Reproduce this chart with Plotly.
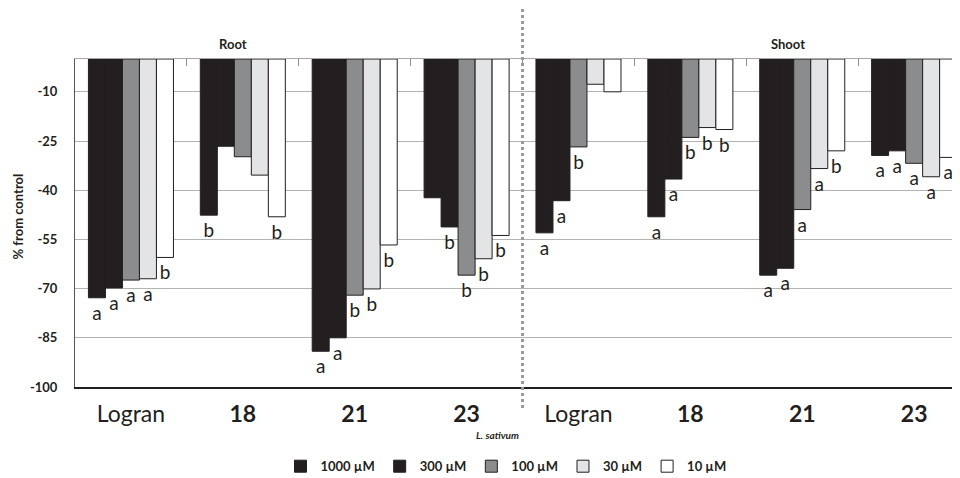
import plotly.graph_objects as go

categories = ["Logran", "18", "21", "23", "Logran", "18", "21", "23"]
tick_text = ["Logran", "<b>18</b>", "<b>21</b>", "<b>23</b>",
             "Logran", "<b>18</b>", "<b>21</b>", "<b>23</b>"]
series_names = ["1000 µM", "300 µM", "100 µM", "30 µM", "10 µM"]

v1000 = [-72.8, -47.6, -89.1, -42.3, -53.0, -48.1, -65.9, -29.4]
v300 = [-69.8, -26.6, -85.0, -51.2, -43.2, -36.6, -63.8, -28.0]
v100 = [-67.4, -29.8, -72.0, -65.9, -26.8, -23.9, -45.9, -31.8]
v30 = [-67.0, -35.4, -70.1, -60.9, -7.7, -20.9, -33.4, -35.9]
v10 = [-60.5, -48.1, -56.7, -53.8, -10.0, -21.5, -28.0, -30.0]

l1000 = ["a", "b", "a", "", "a", "a", "a", "a"]
l300 = ["a", "", "a", "b", "a", "a", "a", "a"]
l100 = ["a", "", "b", "b", "b", "b", "a", "a"]
l30 = ["a", "", "b", "b", "", "b", "a", "a"]
l10 = ["b", "b", "b", "b", "", "b", "b", "a"]

y_ticks = [-10, -25, -40, -55, -70, -85, -100]
y_tick_text = ["<b>%d</b>" % v for v in y_ticks]
panel_titles = ["Root", "Shoot"]

colors = ["#231f20", "#231f20", "#8b8c8e", "#e3e4e5", "#ffffff"]
values = [v1000, v300, v100, v30, v10]
labels = [l1000, l300, l100, l30, l10]

FONT = "Lato"
xpos = list(range(len(categories)))

fig = go.Figure()
for name, vals, labs, col in zip(series_names, values, labels, colors):
    fig.add_trace(go.Bar(
        x=xpos, y=vals, name=name,
        marker=dict(color=col, line=dict(color="#231f20", width=1)),
        text=labs, textposition="outside", constraintext="none",
        textfont=dict(family=FONT, size=19, color="#231f20"),
        cliponaxis=False,
    ))

# invisible trace to carry the top category axis (tick marks between groups)
fig.add_trace(go.Scatter(x=[0], y=[0], xaxis="x2", yaxis="y",
                         mode="markers", marker=dict(opacity=0),
                         showlegend=False, hoverinfo="skip"))

xr = [-0.5, 7.41]
fig.update_layout(
    width=952, height=470,
    margin=dict(l=67, r=0, t=51, b=91, autoexpand=False),
    paper_bgcolor="white", plot_bgcolor="white",
    barmode="group", bargap=0.24, bargroupgap=0,
    font=dict(family=FONT, color="#231f20"),
    xaxis=dict(
        range=xr, tickmode="array", tickvals=xpos, ticktext=tick_text,
        tickfont=dict(family=FONT, size=23, color="#231f20"),
        ticks="", showline=True, linecolor="#231f20", linewidth=2,
        showgrid=False, zeroline=False, ticklabelstandoff=5,
        automargin=False,
    ),
    xaxis2=dict(
        range=xr, overlaying="x", side="top", anchor="y",
        tickmode="array", tickvals=[0.5, 1.5, 2.5, 3.5, 4.5, 5.5, 6.5],
        ticks="inside", ticklen=7, tickcolor="#8c8c8c", tickwidth=1,
        showticklabels=False, showline=True, linecolor="#a6a6a6",
        linewidth=1, showgrid=False, zeroline=False, automargin=False,
    ),
    yaxis=dict(
        range=[-100, 0], tickmode="array", tickvals=y_ticks,
        ticktext=y_tick_text,
        tickfont=dict(family=FONT, size=13, color="#231f20"),
        ticks="", ticklabelstandoff=14,
        showgrid=True, gridcolor="#b3b3b3", gridwidth=1.3,
        zeroline=False, showline=True, linecolor="#555555", linewidth=1,
        automargin=False,
    ),
    legend=dict(
        orientation="h", x=0.487, xanchor="center",
        yref="container", y=0.025, yanchor="middle",
        font=dict(family=FONT, size=13, color="#231f20", weight="bold"),
        itemwidth=30, traceorder="normal",
    ),
    showlegend=True,
)

# dotted separator between Root and Shoot
fig.add_shape(type="line", xref="x", yref="paper", x0=3.5, x1=3.5,
              y0=-0.064, y1=1.155,
              line=dict(color="#9a9a9a", width=3, dash="dot"))

fig.add_annotation(text="<b>%s</b>" % panel_titles[0], xref="paper", yref="paper",
                   x=0.1785, y=1, yshift=15, xanchor="center", yanchor="middle",
                   showarrow=False,
                   font=dict(family=FONT, size=13, color="#231f20"))
fig.add_annotation(text="<b>%s</b>" % panel_titles[1], xref="paper", yref="paper",
                   x=0.806, y=1, yshift=15, xanchor="center", yanchor="middle",
                   showarrow=False,
                   font=dict(family=FONT, size=13, color="#231f20"))
fig.add_annotation(text="<b><i>L. sativum</i></b>", xref="paper", yref="paper",
                   x=0.477, y=-0.146, xanchor="center", yanchor="middle",
                   showarrow=False,
                   font=dict(family=FONT, size=10, color="#231f20"))
fig.add_annotation(text="<b>% from control</b>", xref="paper", yref="paper",
                   x=0, xshift=-57, y=0.52, xanchor="center", yanchor="middle",
                   textangle=-90, showarrow=False,
                   font=dict(family=FONT, size=13, color="#231f20"))

fig.write_html("out.html")
